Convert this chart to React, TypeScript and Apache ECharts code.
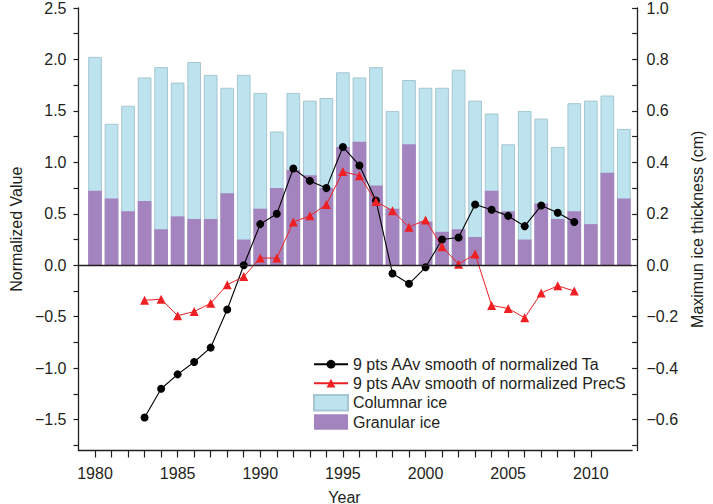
import React, { useEffect, useRef } from "react";
import * as echarts from "echarts";

const barYears = [1980,1981,1982,1983,1984,1985,1986,1987,1988,1989,1990,1991,1992,1993,1994,1995,1996,1997,1998,1999,2000,2001,2002,2003,2004,2005,2006,2007,2008,2009,2010,2011,2012];
const columnarIce = [0.81,0.55,0.62,0.73,0.77,0.71,0.79,0.74,0.69,0.74,0.67,0.52,0.67,0.64,0.65,0.75,0.73,0.77,0.60,0.72,0.69,0.69,0.76,0.64,0.59,0.47,0.60,0.57,0.46,0.63,0.64,0.66,0.53];
const granularIce = [0.29,0.26,0.21,0.25,0.14,0.19,0.18,0.18,0.28,0.10,0.22,0.30,0.37,0.35,0.30,0.46,0.48,0.31,0.22,0.47,0.17,0.13,0.14,0.11,0.29,0.21,0.10,0.24,0.18,0.21,0.16,0.36,0.26];

const lineYears = [1983,1984,1985,1986,1987,1988,1989,1990,1991,1992,1993,1994,1995,1996,1997,1998,1999,2000,2001,2002,2003,2004,2005,2006,2007,2008,2009];
const taSmooth = [-1.48,-1.20,-1.06,-0.94,-0.80,-0.43,0.00,0.40,0.50,0.94,0.82,0.75,1.15,0.97,0.63,-0.08,-0.18,-0.02,0.25,0.27,0.59,0.54,0.48,0.38,0.58,0.51,0.42];
const precSmooth = [-0.34,-0.33,-0.49,-0.45,-0.37,-0.19,-0.11,0.07,0.07,0.42,0.48,0.59,0.91,0.87,0.62,0.53,0.37,0.44,0.18,0.01,0.11,-0.39,-0.42,-0.51,-0.27,-0.20,-0.25];

const xTickYears = [1980,1981,1982,1983,1984,1985,1986,1987,1988,1989,1990,1991,1992,1993,1994,1995,1996,1997,1998,1999,2000,2001,2002,2003,2004,2005,2006,2007,2008,2009,2010];
const xLabelYears = [1980,1985,1990,1995,2000,2005,2010];
const leftLabels = [-1.5,-1.0,-0.5,0.0,0.5,1.0,1.5,2.0,2.5];
const leftTicks = [-1.75,-1.5,-1.25,-1.0,-0.75,-0.5,-0.25,0,0.25,0.5,0.75,1.0,1.25,1.5,1.75,2.0,2.25,2.5];
const rightLabels = [-0.6,-0.4,-0.2,0.0,0.2,0.4,0.6,0.8,1.0];
const rightTicks = [-0.7,-0.6,-0.5,-0.4,-0.3,-0.2,-0.1,0,0.1,0.2,0.3,0.4,0.5,0.6,0.7,0.8,0.9,1.0];

const NAME_TA = "9 pts AAv smooth of normalized Ta";
const NAME_PREC = "9 pts AAv smooth of normalized PrecS";
const NAME_COL = "Columnar ice";
const NAME_GRAN = "Granular ice";

const FONT = "'Liberation Sans', Arial, Helvetica, sans-serif";
const INK = "#231f20";

const fmt = (v: number) => (v < 0 ? "\u2212" : "") + Math.abs(v).toFixed(1);

export default function App() {
  const ref = useRef<HTMLDivElement>(null);
  useEffect(() => {
    if (!ref.current) return;
    const chart = echarts.init(ref.current, undefined, { renderer: "svg" });
    const textStyle = { fontFamily: FONT, fontSize: 16, color: INK };
    chart.setOption({
      animation: false,
      textStyle: { fontFamily: FONT },
      grid: { left: 67, right: 69.7, top: 7.3, bottom: 53.5 },
      legend: [
        {
          orient: "vertical",
          left: 308,
          top: 351.2,
          itemWidth: 34,
          itemHeight: 11,
          itemGap: 3,
          textStyle: { ...textStyle },
          data: [NAME_TA, NAME_PREC],
          selectedMode: false,
        },
        {
          orient: "vertical",
          left: 308,
          top: 389,
          itemWidth: 34,
          itemHeight: 15.5,
          itemGap: 2.5,
          textStyle: { ...textStyle },
          data: [
            { name: NAME_COL, icon: "rect" },
            { name: NAME_GRAN, icon: "rect" },
          ],
          selectedMode: false,
        },
      ],
      graphic: [
        {
          type: "text",
          x: 344.5,
          y: 497,
          style: { text: "Year", fontFamily: FONT, fontSize: 16, fill: INK, align: "center", verticalAlign: "middle" },
        },
      ],
      xAxis: {
        type: "value",
        min: 1979,
        max: 2012.5,
        axisLine: { show: true, onZero: false, lineStyle: { color: INK, width: 1.3 } },
        axisTick: { show: true, length: 7, customValues: xTickYears, lineStyle: { color: INK, width: 1.2 } },
        axisLabel: { ...textStyle, margin: 15, customValues: xLabelYears, formatter: (v: number) => String(v) },
        splitLine: { show: false },
      },
      yAxis: [
        {
          type: "value",
          position: "left",
          min: -1.8,
          max: 2.5,
          name: "Normalized Value",
          nameLocation: "middle",
          nameRotate: 90,
          nameGap: 48,
          nameTextStyle: { ...textStyle },
          axisLine: { show: true, onZero: false, lineStyle: { color: INK, width: 1.3 } },
          axisTick: { show: true, length: 5, customValues: leftTicks, lineStyle: { color: INK, width: 1.2 } },
          axisLabel: { ...textStyle, margin: 12, customValues: leftLabels, formatter: fmt },
          splitLine: { show: false },
        },
        {
          type: "value",
          position: "right",
          offset: 5.4,
          min: -0.72,
          max: 1.0,
          name: "Maximun ice thickness (cm)",
          nameLocation: "middle",
          nameRotate: 90,
          nameGap: 46,
          nameTextStyle: { ...textStyle },
          axisLine: { show: true, onZero: false, lineStyle: { color: INK, width: 1.3 } },
          axisTick: { show: true, inside: true, length: 5.4, customValues: rightTicks, lineStyle: { color: INK, width: 1.2 } },
          axisLabel: { ...textStyle, margin: 9, customValues: rightLabels, formatter: fmt },
          splitLine: { show: false },
        },
      ],
      series: [
        {
          name: NAME_COL,
          type: "bar",
          yAxisIndex: 1,
          barWidth: 13.7,
          barGap: "-100%",
          itemStyle: { color: "#bce3ee", borderColor: "#a6c6d1", borderWidth: 1 },
          data: barYears.map((y, i) => [y, columnarIce[i]]),
        },
        {
          name: NAME_GRAN,
          type: "bar",
          yAxisIndex: 1,
          barWidth: 13.7,
          barGap: "-100%",
          itemStyle: { color: "#a484be", borderColor: "#a484be", borderWidth: 0 },
          data: barYears.map((y, i) => [y, granularIce[i]]),
          markLine: {
            silent: true,
            symbol: ["none", "none"],
            label: { show: false },
            lineStyle: { color: INK, width: 1.3, type: "solid" },
            data: [{ yAxis: 0 }],
          },
        },
        {
          name: NAME_TA,
          type: "line",
          yAxisIndex: 0,
          symbol: "circle",
          symbolSize: 8,
          itemStyle: { color: "#000000" },
          lineStyle: { color: "#000000", width: 1.1 },
          data: lineYears.map((y, i) => [y, taSmooth[i]]),
        },
        {
          name: NAME_PREC,
          type: "line",
          yAxisIndex: 0,
          symbol: "triangle",
          symbolSize: 9,
          itemStyle: { color: "#ee2024" },
          lineStyle: { color: "#ee2024", width: 1 },
          data: lineYears.map((y, i) => [y, precSmooth[i]]),
        },
      ],
    });
    return () => chart.dispose();
  }, []);
  return (
    <div
      ref={ref}
      style={{ position: "absolute", left: 0, top: 0, width: 713, height: 504 }}
    />
  );
}
